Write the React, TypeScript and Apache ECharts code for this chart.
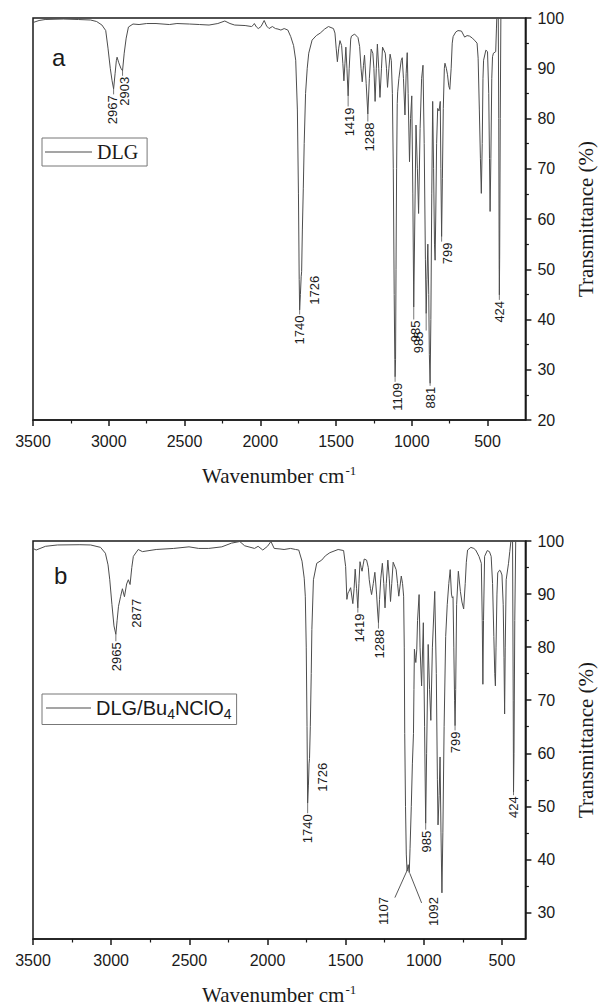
import React, { useEffect, useRef } from "react";
import * as echarts from "echarts";

// ---------- Panel a : DLG ----------
const wnA = [3500,3460,3420,3300,3200,3120,3080,3045,3020,3005,2990,2978,2968,2958,2950,2945,2935,2920,2909,2898,2885,2870,2840,2800,2750,2688,2600,2550,2468,2400,2338,2280,2234,2200,2169,2100,2058,2045,2039,2025,2013,1995,1974,1958,1942,1920,1900,1883,1864,1842,1818,1799,1780,1766,1755,1748,1743,1740,1735,1730,1727,1722,1716,1710,1701,1690,1680,1658,1630,1604,1575,1550,1517,1507,1499,1491,1482,1474,1463,1455,1448,1441,1435,1428,1420,1413,1403,1398,1377,1355,1344,1335,1327,1319,1312,1301,1290,1280,1268,1257,1250,1242,1234,1227,1218,1210,1200,1193,1175,1167,1160,1151,1143,1135,1128,1122,1116,1112,1110,1107,1104,1100,1096,1093,1085,1070,1063,1055,1045,1037,1030,1024,1015,1008,1000,993,987,980,972,963,955,945,935,926,918,910,905,900,894,888,884,879,874,868,862,856,850,846,842,836,829,820,812,808,803,798,792,785,781,772,764,756,749,740,733,727,710,695,672,651,635,619,600,587,569,562,554,547,541,535,530,526,511,500,492,487,483,478,472,467,461,446,441,437,430,426,423,422,420,416,412,409,400,250];
const tA = [99.1,99.5,99.7,99.8,99.7,99.6,99.3,98.6,97.5,94.0,90.0,87.5,85.9,89.0,91.5,92.2,91.2,90.0,89.5,93.0,96.0,98.2,98.8,98.7,98.9,98.9,98.7,98.9,98.8,98.7,98.6,98.9,99.4,98.9,98.6,98.5,98.3,98.6,98.9,98.2,97.9,98.3,99.5,98.4,97.9,98.3,97.9,97.8,97.6,97.9,97.6,96.3,94.5,91.6,81.7,65,48,41.9,45,48.5,49.5,58,66,75,85,90,93,95.6,96.5,97,97.8,98.3,97.9,97,94,91.3,94,95.5,94.5,91,87.5,91,94.2,90,84.5,90,95.8,96.4,96.8,96.1,94.3,90,87.3,90.5,92.6,87,80.9,88,93.8,93,90,83.4,90,94.8,90,84.2,90,94.2,93,90,86.2,90,92.8,91.5,85,70,45,32,28.6,32,50,70,83,85.3,88,91.5,92.1,88,80.7,89,93.1,85,71.4,80,84.5,65,42.5,60,78.7,70,61.1,78,88,90.6,75,52,41.2,48,55,45,33,27.3,40,65,83.4,70,55,51.8,60,75,82,81.5,83.4,70,56.5,68,82,90,91,90,88.7,86.5,85.8,90,95,96.3,97.2,97.5,97.4,96.2,96.5,96.4,96,95.6,95,92,81.7,72,65.1,75,88,91.6,93.6,93.3,85,72,61.5,72,88,92.3,93,93.3,98,102,106,80,50,44.9,52,80,100,106,110,110];

// ---------- Panel b : DLG/Bu4NClO4 ----------
const wnB = [3500,3480,3420,3344,3200,3131,3068,3037,3020,3009,2995,2982,2970,2962,2953,2940,2928,2915,2901,2890,2879,2868,2858,2827,2800,2712,2600,2502,2440,2376,2292,2230,2177,2146,2083,2060,2030,2000,1978,1957,1920,1894,1852,1820,1800,1779,1765,1758,1752,1747,1743,1738,1734,1731,1726,1720,1716,1706,1685,1653,1630,1601,1548,1513,1500,1492,1485,1479,1468,1454,1446,1439,1430,1422,1415,1408,1401,1395,1388,1381,1366,1355,1349,1341,1334,1323,1313,1302,1296,1290,1283,1275,1265,1256,1248,1240,1230,1221,1213,1205,1196,1177,1168,1160,1152,1144,1136,1129,1125,1122,1117,1112,1107,1100,1093,1088,1080,1073,1066,1063,1060,1055,1051,1045,1040,1030,1024,1014,1003,995,988,982,972,963,955,945,930,920,913,909,902,896,890,884,878,870,860,850,840,831,823,818,813,808,803,800,796,790,779,766,756,745,735,728,720,699,680,668,647,632,626,622,618,611,594,580,569,560,552,546,542,538,532,527,515,510,500,492,487,483,479,473,458,450,443,433,428,426,423,418,412,406,400,350];
const tB = [98.6,98.3,99.0,99.25,99.3,99.25,98.8,97.7,95.5,92.7,88,84,82.4,85,87.7,89.5,91,89.5,91.9,92.7,91.8,95,97.1,98.4,98,98.4,98.6,98.9,98.6,98.6,98.9,99.6,99.9,99.1,98.6,99,98.3,99,99.9,98.6,98.5,98.4,98.6,98.4,98.3,96.2,93,89.6,80,65,50.6,54,58,59,65,75,83.3,92.7,95.8,96.4,97.2,97.8,98.4,98.2,95.2,89,90.2,90.5,91.2,88.2,91,94.7,91,87.4,92,96.1,95,94.3,95.5,96.6,96.4,95,92.7,91,89.9,92,94.1,90,87,84.6,89,93,95.8,92,87.4,92,96.4,93,88.6,92,96,94.6,92,89.6,91.5,93.4,92,89.6,80,63.7,50,41,37.8,39,37.5,42,50,58,63.7,72,79.6,78,77.1,79.5,85,89.9,80,72.7,84.6,65,46.8,60,80.5,72,66.2,80,90.5,75,55,46.5,52,59.3,45,33.7,45,65,82,88,92,94.6,90,89.3,89.5,80,70,65.2,72,88,94.3,90.5,88.5,87.2,92,96,98.3,98.8,98.6,98.3,97.1,95.8,85,73,85,97.1,98.2,98,97.1,92,82,75,72.7,80,90,94,94.5,94.4,93.6,88,78,67.4,80,92.7,95.8,98,99.9,106,70,52.7,60,85,100,106,110,110];

// ---------- Peak annotations: [peak wn, peak T, label wn, label-top T] ----------
const annTextA = ["2967","2903","1740","1726","1419","1288","1109","985","985","881","799","424"];
const annPosA = [
  [2968,85.9,2975,84.8],[2909,89.5,2893,88.5],[1740,41.9,1738,41.0],[1645,48.9,1645,48.9],
  [1420,84.5,1412,82.4],[1290,80.9,1280,79.4],[1110,28.6,1095,27.6],[987,42.5,978,40.0],
  [905,41.2,955,37.8],[879,27.3,874,26.8],[803,56.5,764,55.5],[422,44.9,418,43.9],
];
const annTextB = ["2965","2877","1740","1726","1419","1288","985","799","424","1107","1092"];
const annPosB = [
  [2970,82.4,2963,81.1],[2837,89.3,2837,89.3],[1743,50.6,1743,48.7],[1649,58.4,1649,58.4],
  [1422,87.4,1412,86.5],[1290,84.6,1286,83.5],[988,46.8,980,45.6],[800,65.2,800,64.3],
  [426,52.7,426,52.1],[1257,33.1,1257,33.1],[940,33.1,940,33.1],
];
// arrows in panel b: [from wn, from T, to wn, to T]
const arrowsB = [[1185,32.8,1107,37.9],[1014,31.8,1090,37.4]];

const xMajorA = [500,1000,1500,2000,2500,3000,3500];
const xMinorA = [750,1250,1750,2250,2750,3250];
const xMajorB = [500,1000,1500,2000,2500,3000,3500];
const xMinorB = [750,1250,1750,2250,2750,3250];
const yMajorB = [30,40,50,60,70,80,90,100];
const yMinorB = [35,45,55,65,75,85,95];

const SANS = "'Liberation Sans', Arial, sans-serif";
const SERIF = "'Liberation Serif', 'Times New Roman', serif";
const INK = "#1a1a1a";
const SPEC = "#4d4d4d";

function zip(a: number[], b: number[]) {
  return a.map((v, i) => [v, b[i]]);
}

const plain = (v: number) => String(v);

function annSeries(texts: string[], pos: number[][], xi: number, yi: number) {
  return {
    type: "custom",
    coordinateSystem: "cartesian2d",
    xAxisIndex: xi,
    yAxisIndex: yi,
    silent: true,
    clip: false,
    z: 5,
    encode: { x: [0, 2], y: [1, 3] },
    data: pos,
    renderItem: (params: any, api: any) => {
      const pk = api.coord([api.value(0), api.value(1)]);
      const lb = api.coord([api.value(2), api.value(3)]);
      const children: any[] = [];
      if (lb[1] - pk[1] > 1.5) {
        children.push({
          type: "line",
          shape: { x1: pk[0], y1: pk[1], x2: pk[0], y2: lb[1] },
          style: { stroke: "#555", lineWidth: 0.8 },
        });
      }
      children.push({
        type: "text",
        x: lb[0],
        y: lb[1] + 1,
        rotation: Math.PI / 2,
        style: {
          text: texts[params.dataIndex],
          fill: INK,
          fontSize: 13,
          fontFamily: SANS,
          align: "right",
          verticalAlign: "middle",
        },
      });
      return { type: "group", children };
    },
  };
}

function xAxes(gi: number, min: number, major: number[], minor: number[]) {
  const nameStyle = {
    fontFamily: SERIF,
    fontSize: 21,
    color: INK,
    rich: {
      base: { fontFamily: SERIF, fontSize: 21, color: INK, lineHeight: 24 },
      sup: { fontFamily: SERIF, fontSize: 13, color: INK, verticalAlign: "top", lineHeight: 24, padding: [0, 0, 10, 1] },
    },
  };
  return [
    {
      type: "value",
      gridIndex: gi,
      min,
      max: 3500,
      inverse: true,
      position: "bottom",
      name: "{base|Wavenumber cm}{sup|-1}",
      nameLocation: "middle",
      nameGap: 44,
      nameTextStyle: nameStyle,
      axisLine: { show: true, onZero: false, lineStyle: { color: INK, width: 1.5 } },
      axisTick: { show: true, inside: false, length: 6, customValues: major, lineStyle: { color: INK, width: 1.5 } },
      axisLabel: { show: true, margin: 13, customValues: major, formatter: plain, fontFamily: SANS, fontSize: 16, color: INK },
      splitLine: { show: false },
    },
    {
      type: "value",
      gridIndex: gi,
      min,
      max: 3500,
      inverse: true,
      position: "bottom",
      axisLine: { show: false, onZero: false },
      axisTick: { show: true, inside: false, length: 3.5, customValues: minor, lineStyle: { color: INK, width: 1.2 } },
      axisLabel: { show: false },
      splitLine: { show: false },
    },
  ];
}

export default function App() {
  const ref = useRef<HTMLDivElement>(null);
  useEffect(() => {
    if (!ref.current) return;
    const chart = echarts.init(ref.current, undefined, { renderer: "svg" });
    const yName = {
      name: "Transmittance (%)",
      nameLocation: "middle",
      nameRotate: 90,
      nameGap: 47,
      nameTextStyle: { fontFamily: SERIF, fontSize: 21, color: INK },
    };
    const legendBase = {
      icon: "rect",
      itemHeight: 1.2,
      borderColor: "#777",
      borderWidth: 1,
      selectedMode: false,
      itemStyle: { color: SPEC, borderWidth: 0 },
    };
    const option: any = {
      animation: false,
      backgroundColor: "#ffffff",
      title: [
        { text: "a", left: 52, top: 45, padding: 0, textStyle: { fontFamily: SANS, fontSize: 24, fontWeight: "normal", color: INK } },
        { text: "b", left: 54, top: 563, padding: 0, textStyle: { fontFamily: SANS, fontSize: 24, fontWeight: "normal", color: INK } },
      ],
      legend: [
        {
          ...legendBase,
          data: ["DLG"],
          left: 42,
          top: 138,
          padding: [4, 9, 4, 3],
          itemWidth: 47,
          textStyle: { fontFamily: SERIF, fontSize: 20, color: INK, lineHeight: 20 },
        },
        {
          ...legendBase,
          data: ["DLG/Bu4NClO4"],
          left: 42,
          top: 694,
          padding: [4, 5, 4, 4],
          itemWidth: 45,
          formatter: () => "{n|DLG/Bu}{s|4}{n|NClO}{s|4}",
          textStyle: {
            fontFamily: SANS,
            fontSize: 20,
            color: INK,
            rich: {
              n: { fontFamily: SANS, fontSize: 20, color: INK, lineHeight: 25, verticalAlign: "middle" },
              s: { fontFamily: SANS, fontSize: 14, color: INK, lineHeight: 14, verticalAlign: "bottom" },
            },
          },
        },
      ],
      grid: [
        { left: 33, top: 18, width: 501, height: 402, show: true, borderColor: INK, borderWidth: 1.5, backgroundColor: "transparent" },
        { left: 33, top: 541, width: 501, height: 401, show: true, borderColor: INK, borderWidth: 1.5, backgroundColor: "transparent" },
      ],
      xAxis: [...xAxes(0, 250, xMajorA, xMinorA), ...xAxes(1, 350, xMajorB, xMinorB)],
      yAxis: [
        {
          type: "value",
          gridIndex: 0,
          position: "right",
          min: 20,
          max: 100,
          interval: 10,
          ...yName,
          axisLine: { show: true, lineStyle: { color: INK, width: 1.5 } },
          axisTick: { show: true, inside: false, length: 6, lineStyle: { color: INK, width: 1.5 } },
          minorTick: { show: true, splitNumber: 2, length: 3.5, lineStyle: { color: INK, width: 1.2 } },
          axisLabel: { margin: 12, formatter: plain, fontFamily: SANS, fontSize: 16, color: INK },
          splitLine: { show: false },
          minorSplitLine: { show: false },
        },
        {
          type: "value",
          gridIndex: 1,
          position: "right",
          min: 25,
          max: 100,
          ...yName,
          axisLine: { show: true, lineStyle: { color: INK, width: 1.5 } },
          axisTick: { show: true, inside: false, length: 6, customValues: yMajorB, lineStyle: { color: INK, width: 1.5 } },
          axisLabel: { margin: 12, customValues: yMajorB, formatter: plain, fontFamily: SANS, fontSize: 16, color: INK },
          splitLine: { show: false },
        },
        {
          type: "value",
          gridIndex: 1,
          position: "right",
          min: 25,
          max: 100,
          axisLine: { show: false },
          axisTick: { show: true, inside: false, length: 3.5, customValues: yMinorB, lineStyle: { color: INK, width: 1.2 } },
          axisLabel: { show: false },
          splitLine: { show: false },
        },
      ],
      series: [
        {
          name: "DLG",
          type: "line",
          xAxisIndex: 0,
          yAxisIndex: 0,
          data: zip(wnA, tA),
          symbol: "none",
          showSymbol: false,
          clip: true,
          lineStyle: { color: SPEC, width: 1 },
          itemStyle: { color: SPEC },
        },
        {
          name: "DLG/Bu4NClO4",
          type: "line",
          xAxisIndex: 2,
          yAxisIndex: 1,
          data: zip(wnB, tB),
          symbol: "none",
          showSymbol: false,
          clip: true,
          lineStyle: { color: SPEC, width: 1 },
          itemStyle: { color: SPEC },
          markLine: {
            silent: true,
            symbol: ["none", "arrow"],
            symbolSize: [0, 9],
            label: { show: false },
            lineStyle: { color: "#444", width: 0.9, type: "solid" },
            data: arrowsB.map((a) => [{ coord: [a[0], a[1]] }, { coord: [a[2], a[3]] }]),
          },
        },
        annSeries(annTextA, annPosA, 0, 0),
        annSeries(annTextB, annPosB, 2, 1),
      ],
    };
    chart.setOption(option);
    return () => chart.dispose();
  }, []);
  return <div ref={ref} style={{ position: "absolute", left: 0, top: 0, width: 604, height: 1007 }} />;
}
